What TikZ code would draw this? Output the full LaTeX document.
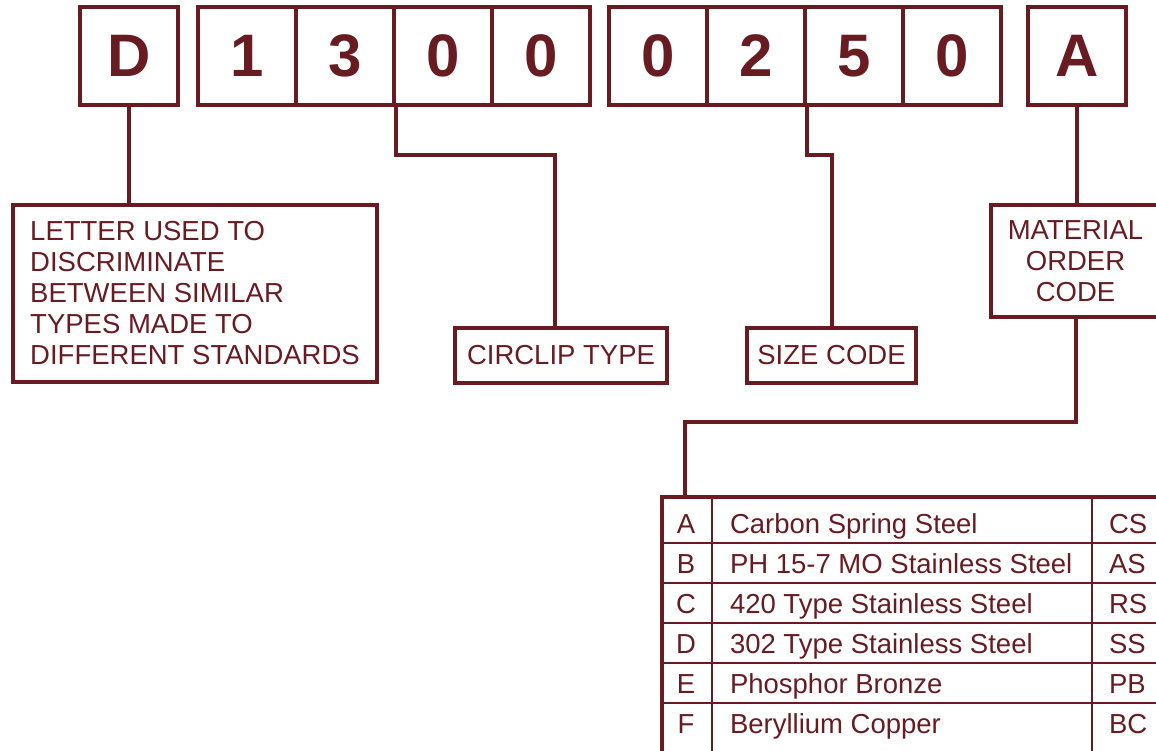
\documentclass[tikz,border=0pt]{standalone}
\usepackage{fontspec}
\setmainfont{Liberation Sans}
\definecolor{ink}{RGB}{104,28,34}

\begin{document}
\begin{tikzpicture}[x=1pt, y=-1pt, line width=4pt, ink,
  cell/.style={draw, minimum width=98pt, minimum height=98pt, inner sep=0pt,
    font=\fontsize{60}{60}\selectfont\bfseries},
  note/.style={draw, inner sep=0pt, font=\fontsize{27.5}{31}\selectfont},
  entry/.style={inner sep=0pt, font=\fontsize{27.5}{31}\selectfont}]

\useasboundingbox (0,0) rectangle (1156,750);
\clip (0,0) rectangle (1156,750);

\begin{scope}
\node[cell] (dbox) at (129,56) {D};
\foreach \d/\x [count=\i] in {1/247, 3/345, 0/443, 0/541}
\node[cell] (c\i) at (\x,56) {\d};
\foreach \d/\x [count=\i] in {0/658, 2/756, 5/854, 0/952}
\node[cell] (g\i) at (\x,56) {\d};
\node[cell] (abox) at (1077,56) {A};
\end{scope}

\node[note, minimum width=364pt, minimum height=177pt, align=left] (letter) at (195,293.5)
  {LETTER USED TO\\DISCRIMINATE\\BETWEEN SIMILAR\\TYPES MADE TO\\DIFFERENT STANDARDS};
\node[note, minimum width=212pt, minimum height=55pt] (circlip) at (561,355.5) {CIRCLIP TYPE};
\node[note, minimum width=169pt, minimum height=55pt] (size) at (831.5,355.5) {SIZE CODE};
\node[note, minimum width=169pt, minimum height=112pt, align=center] (matl) at (1075.5,261)
  {MATERIAL\\ORDER\\CODE};

\draw (dbox.south) -- (dbox.south |- letter.north);
\draw (c2.south east) -- ++(0,48) -| ([xshift=-6pt]circlip.north);
\draw (g2.south east) -- ++(0,48) -| (size.north);
\draw (abox.south) -- (abox.south |- matl.north);

\coordinate (tblin) at (685,497);
\draw (matl.south) -- (matl.south |- 0,422) -| (tblin);

\begin{scope}
\draw (662,497) rectangle (1180,780);
\begin{scope}[line width=2.5pt]
\foreach \y in {543, 583, 623, 663, 703}
\draw (662,\y) -- (1180,\y);
\draw (712,497) -- (712,780);
\draw (1092,497) -- (1092,780);
\end{scope}
\end{scope}

\foreach \l/\m/\c [count=\i] in {A/Carbon Spring Steel/CS, B/PH 15-7 MO Stainless Steel/AS,
  C/420 Type Stainless Steel/RS, D/302 Type Stainless Steel/SS, E/Phosphor Bronze/PB,
  F/Beryllium Copper/BC} {
\node[entry, anchor=base] (l\i) at (686,493+40*\i) {\l};
\node[entry, anchor=base west] (m\i) at (728,493+40*\i) {\m};
\node[entry, anchor=base west] (k\i) at (1107,493+40*\i) {\c};
}

\end{tikzpicture}
\end{document}
